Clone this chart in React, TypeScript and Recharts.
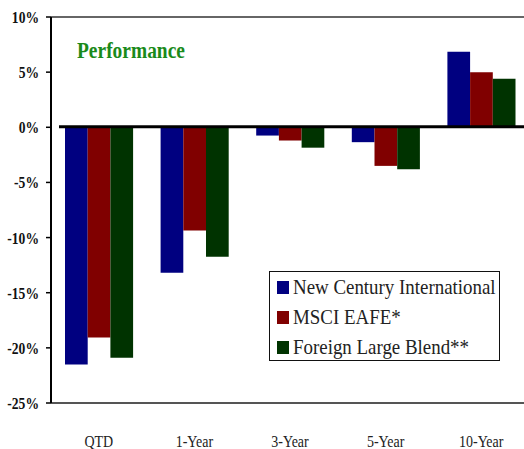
import { BarChart, Bar, XAxis, YAxis, ReferenceLine, Legend } from "recharts";

const periods = ["QTD", "1-Year", "3-Year", "5-Year", "10-Year"];
const newCentury = [-21.5, -13.2, -0.75, -1.35, 6.85];
const msciEafe = [-19.05, -9.35, -1.2, -3.5, 5.0];
const foreignBlend = [-20.9, -11.75, -1.85, -3.8, 4.4];
const yTicks = [-25, -20, -15, -10, -5, 0, 5, 10];

const series = [
  { key: "nci", name: "New Century International", color: "#000080", values: newCentury },
  { key: "msci", name: "MSCI EAFE*", color: "#800000", values: msciEafe },
  { key: "flb", name: "Foreign Large Blend**", color: "#003300", values: foreignBlend },
];

const chartData = periods.map((period, i) => {
  const row: Record<string, string | number> = { period };
  series.forEach((s) => (row[s.key] = s.values[i]));
  return row;
});

const serif = '"Liberation Serif", "Times New Roman", serif';

function YTick({ x, y, payload }: any) {
  return (
    <g transform={`translate(${x},${y})`}>
      <text
        transform="scale(0.8,1)"
        textAnchor="end"
        dy="0.35em"
        fontFamily={serif}
        fontWeight="bold"
        fontSize={17}
        fill="#111"
      >
        {payload.value}%
      </text>
    </g>
  );
}

function XTick({ x, y, payload }: any) {
  return (
    <g transform={`translate(${x},${y + 42})`}>
      <text transform="scale(0.8,1)" textAnchor="middle" fontFamily={serif} fontSize={17.5} fill="#222">
        {payload.value}
      </text>
    </g>
  );
}

function ZeroLine(props: any) {
  // thick zero line, starts a little right of the axis
  return <line x1={props.x1 + 8} y1={props.y1 - 0.5} x2={props.x2} y2={props.y2 - 0.5} stroke="#000" strokeWidth={3} />;
}

function LegendBox() {
  return (
    <div
      style={{
        border: "1.5px solid #111",
        background: "#fff",
        width: 231,
        height: 90,
        boxSizing: "border-box",
        paddingLeft: 7,
        fontFamily: serif,
      }}
    >
      {series.map((s) => (
        <div key={s.key} style={{ display: "flex", alignItems: "center", height: 30 }}>
          <div style={{ width: 12, height: 13, background: s.color, marginRight: 4, flexShrink: 0 }} />
          <span
            style={{
              fontSize: 21,
              color: "#222",
              whiteSpace: "nowrap",
              display: "inline-block",
              transform: "scaleX(0.9)",
              transformOrigin: "left center",
            }}
          >
            {s.name}
          </span>
        </div>
      ))}
    </div>
  );
}

export default function App() {
  return (
    <div style={{ position: "absolute", left: 0, top: 0, width: 524, height: 449, overflow: "hidden", background: "#fff" }}>
      <div
        style={{
          position: "absolute",
          left: 77,
          top: 38,
          fontFamily: serif,
          fontWeight: "bold",
          fontSize: 24,
          lineHeight: "24px",
          color: "#1a8a1a",
          whiteSpace: "nowrap",
          transform: "scaleX(0.81)",
          transformOrigin: "left center",
          zIndex: 2,
        }}
      >
        Performance
      </div>
      <BarChart
        width={529}
        height={449}
        data={chartData}
        margin={{ top: 17, right: 0, left: 0, bottom: 0 }}
        barGap={0}
        barSize={22.7}
      >
        <XAxis
          dataKey="period"
          height={46}
          axisLine={{ stroke: "#555", strokeWidth: 2 }}
          tickLine={false}
          tickSize={0}
          tick={<XTick />}
          interval={0}
        />
        <YAxis
          width={51}
          domain={[-25, 10]}
          ticks={yTicks}
          axisLine={{ stroke: "#000", strokeWidth: 2 }}
          tickLine={{ stroke: "#000", strokeWidth: 1.5 }}
          tickSize={5}
          tickMargin={7}
          tick={<YTick />}
        />
        <ReferenceLine y={10} stroke="#666" strokeWidth={2} />
        {series.map((s) => (
          <Bar key={s.key} dataKey={s.key} name={s.name} fill={s.color} isAnimationActive={false} />
        ))}
        <ReferenceLine y={0} shape={<ZeroLine />} />
        <Legend
          layout="vertical"
          align="center"
          verticalAlign="middle"
          content={<LegendBox />}
          wrapperStyle={{ left: 269, top: 271, width: 231, height: 90 }}
        />
      </BarChart>
    </div>
  );
}
